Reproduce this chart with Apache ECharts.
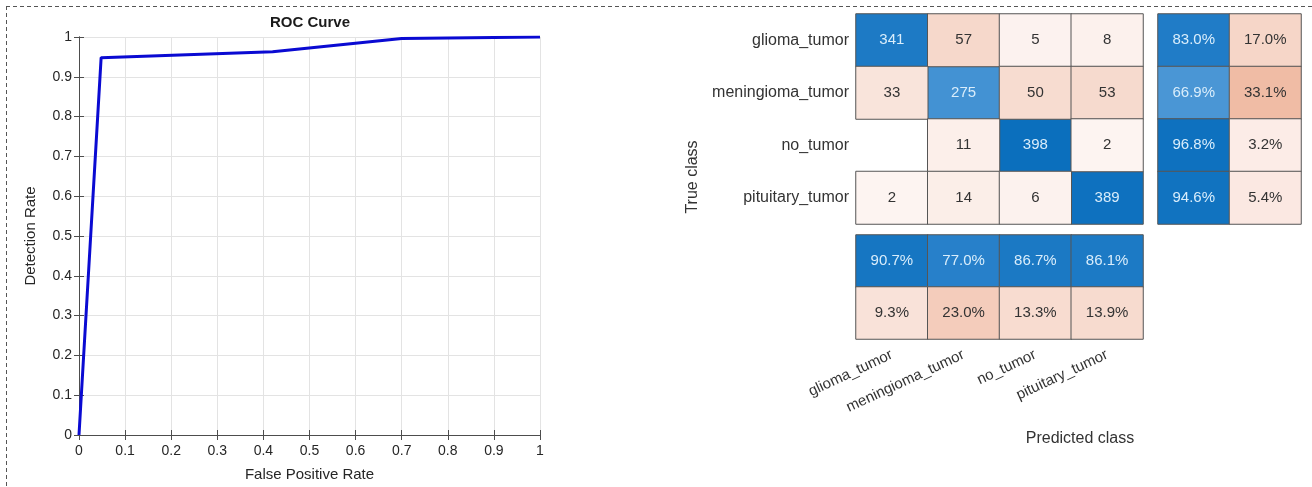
<!DOCTYPE html>
<html>
<head>
<meta charset="utf-8">
<script src="https://cdn.jsdelivr.net/npm/echarts@6/dist/echarts.min.js"></script>
<style>
html,body{margin:0;padding:0;background:#fff;}
#c{width:1312px;height:487px;}
</style>
</head>
<body>
<div id="c"></div>
<script>
// ---- data ----
const classes = ['glioma_tumor', 'meningioma_tumor', 'no_tumor', 'pituitary_tumor'];
const confusion = [
  [341, 57, 5, 8],
  [33, 275, 50, 53],
  [0, 11, 398, 2],
  [2, 14, 6, 389]
];
const rowCorrect = [83.0, 66.9, 96.8, 94.6];
const rowIncorrect = [17.0, 33.1, 3.2, 5.4];
const colCorrect = [90.7, 77.0, 86.7, 86.1];
const colIncorrect = [9.3, 23.0, 13.3, 13.9];
const rocFpr = [0, 0.048, 0.42, 0.70, 1.0];
const rocTpr = [0, 0.948, 0.963, 0.996, 1.0];

// ---- build series data ----
const diagData = [], offData = [];
confusion.forEach((row, i) => row.forEach((v, j) => {
  if (i === j) diagData.push([j, i, v]);
  else if (v > 0) offData.push([j, i, v]);
}));
const rowCorData = rowCorrect.map((v, i) => [0, i, v]);
const rowIncData = rowIncorrect.map((v, i) => [1, i, v]);
const colCorData = colCorrect.map((v, j) => [j, 0, v]);
const colIncData = colIncorrect.map((v, j) => [j, 1, v]);
const rocData = rocFpr.map((x, k) => [x, rocTpr[k]]);

const FONT = '"Liberation Sans", Arial, Helvetica, sans-serif';
const blueRamp = ['#ffffff', '#d0e5f6', '#8cc0e9', '#2a82cb', '#0a6fbd'];
const cellBorder = {borderColor: '#555555', borderWidth: 1};
const lightLabel = {show: true, color: '#d9edfb', fontSize: 15, fontFamily: FONT};
const darkLabel = {show: true, color: '#333333', fontSize: 15, fontFamily: FONT};
const pct = p => p.value[2].toFixed(1) + '%';
const cnt = p => String(p.value[2]);

const hiddenCat = (gridIndex, data, extra) => Object.assign({
  type: 'category', gridIndex, data,
  axisLine: {show: false}, axisTick: {show: false}, axisLabel: {show: false},
  splitLine: {show: false}
}, extra || {});

const chart = echarts.init(document.getElementById('c'), null, {renderer: 'canvas'});
chart.setOption({
  animation: false,
  textStyle: {fontFamily: FONT},
  grid: [
    {left: 79, top: 37, width: 461, height: 400},
    {left: 856, top: 14, width: 287, height: 210},
    {left: 1158, top: 14, width: 143, height: 210},
    {left: 856, top: 235, width: 287, height: 104}
  ],
  xAxis: [
    {
      type: 'value', gridIndex: 0, min: 0, max: 1, interval: 0.1,
      name: 'False Positive Rate', nameLocation: 'middle', nameGap: 32,
      nameTextStyle: {fontSize: 15, color: '#262626', fontFamily: FONT},
      axisLine: {show: true, lineStyle: {color: '#4d4d4d'}},
      axisTick: {show: true, inside: true, length: 5, lineStyle: {color: '#4d4d4d'}},
      axisLabel: {fontSize: 14, color: '#262626', margin: 9, fontFamily: FONT},
      splitLine: {show: true, lineStyle: {color: '#e3e3e3'}}
    },
    {
      type: 'value', gridIndex: 0, position: 'top', min: 0, max: 1, interval: 0.1,
      axisLine: {show: true, lineStyle: {color: '#4d4d4d'}},
      axisTick: {show: true, inside: true, length: 5, lineStyle: {color: '#4d4d4d'}},
      axisLabel: {show: false}, splitLine: {show: false}
    },
    hiddenCat(1, classes),
    hiddenCat(2, ['Correct', 'Incorrect']),
    hiddenCat(3, classes, {
      position: 'bottom',
      axisLabel: {show: true, rotate: 25, fontSize: 15, color: '#333333', margin: 15, fontFamily: FONT, interval: 0}
    })
  ],
  yAxis: [
    {
      type: 'value', gridIndex: 0, min: 0, max: 1, interval: 0.1,
      name: 'Detection Rate', nameLocation: 'middle', nameGap: 41,
      nameTextStyle: {fontSize: 15, color: '#262626', fontFamily: FONT},
      axisLine: {show: true, lineStyle: {color: '#4d4d4d'}},
      axisTick: {show: true, inside: true, length: 5, lineStyle: {color: '#4d4d4d'}},
      axisLabel: {fontSize: 14, color: '#262626', margin: 7, fontFamily: FONT},
      splitLine: {show: true, lineStyle: {color: '#e3e3e3'}}
    },
    {
      type: 'value', gridIndex: 0, position: 'right', min: 0, max: 1, interval: 0.1,
      axisLine: {show: true, lineStyle: {color: '#4d4d4d'}},
      axisTick: {show: true, inside: true, length: 5, lineStyle: {color: '#4d4d4d'}},
      axisLabel: {show: false}, splitLine: {show: false}
    },
    hiddenCat(1, classes, {
      inverse: true,
      axisLabel: {show: true, fontSize: 16, color: '#333333', margin: 7, fontFamily: FONT}
    }),
    hiddenCat(2, classes, {inverse: true}),
    hiddenCat(3, ['Correct', 'Incorrect'], {inverse: true})
  ],
  visualMap: [
    {show: false, type: 'continuous', dimension: 2, seriesIndex: 1, min: 0, max: 400, inRange: {color: blueRamp}},
    {show: false, type: 'continuous', dimension: 2, seriesIndex: 2, min: 0, max: 120, inRange: {color: ['#fdf5f2', '#eeb8a0']}},
    {show: false, type: 'continuous', dimension: 2, seriesIndex: [3, 5], min: 0, max: 100, inRange: {color: blueRamp}},
    {show: false, type: 'continuous', dimension: 2, seriesIndex: [4, 6], min: 0, max: 50, inRange: {color: ['#fdf1ee', '#e9a17f']}}
  ],
  series: [
    {
      type: 'line', xAxisIndex: 0, yAxisIndex: 0, data: rocData,
      symbol: 'none', lineStyle: {color: '#0a0ad2', width: 3}, silent: true
    },
    {type: 'heatmap', xAxisIndex: 2, yAxisIndex: 2, data: diagData, itemStyle: cellBorder, label: Object.assign({formatter: cnt}, lightLabel), emphasis: {disabled: true}},
    {type: 'heatmap', xAxisIndex: 2, yAxisIndex: 2, data: offData, itemStyle: cellBorder, label: Object.assign({formatter: cnt}, darkLabel), emphasis: {disabled: true}},
    {type: 'heatmap', xAxisIndex: 3, yAxisIndex: 3, data: rowCorData, itemStyle: cellBorder, label: Object.assign({formatter: pct}, lightLabel), emphasis: {disabled: true}},
    {type: 'heatmap', xAxisIndex: 3, yAxisIndex: 3, data: rowIncData, itemStyle: cellBorder, label: Object.assign({formatter: pct}, darkLabel), emphasis: {disabled: true}},
    {type: 'heatmap', xAxisIndex: 4, yAxisIndex: 4, data: colCorData, itemStyle: cellBorder, label: Object.assign({formatter: pct}, lightLabel), emphasis: {disabled: true}},
    {type: 'heatmap', xAxisIndex: 4, yAxisIndex: 4, data: colIncData, itemStyle: cellBorder, label: Object.assign({formatter: pct}, darkLabel), emphasis: {disabled: true}}
  ],
  graphic: [
    {type: 'line', shape: {x1: 6, y1: 6.5, x2: 1312, y2: 6.5}, style: {stroke: '#555555', lineWidth: 1, lineDash: [4, 3]}, silent: true},
    {type: 'line', shape: {x1: 6.5, y1: 6, x2: 6.5, y2: 487}, style: {stroke: '#555555', lineWidth: 1, lineDash: [4, 3]}, silent: true},
    {type: 'text', x: 310, y: 23, style: {text: 'ROC Curve', font: 'bold 15px ' + FONT, fill: '#1a1a1a', textAlign: 'center', textVerticalAlign: 'middle'}},
    {type: 'text', x: 693, y: 177, rotation: Math.PI / 2, style: {text: 'True class', font: '16px ' + FONT, fill: '#333333', textAlign: 'center', textVerticalAlign: 'middle'}},
    {type: 'text', x: 1080, y: 439, style: {text: 'Predicted class', font: '16px ' + FONT, fill: '#333333', textAlign: 'center', textVerticalAlign: 'middle'}}
  ]
});
</script>
</body>
</html>
